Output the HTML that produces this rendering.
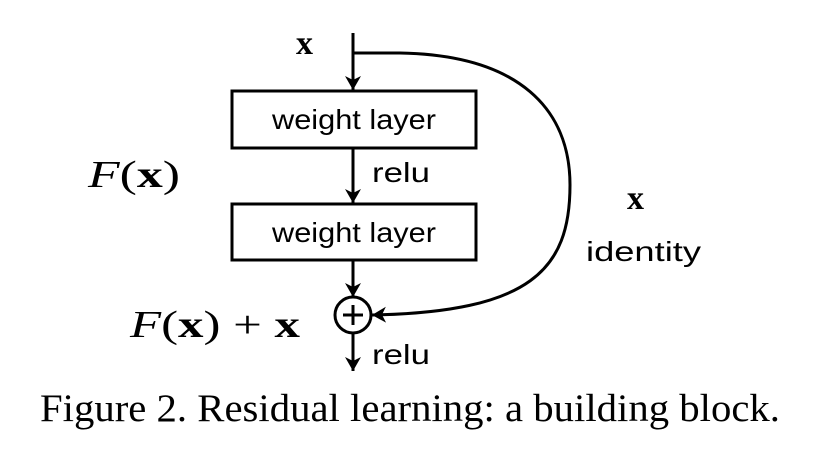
<!DOCTYPE html>
<html><head><style>
body{margin:0;background:#fff;}
svg{display:block}
</style></head><body>
<svg width="819" height="453" viewBox="0 0 819 453" xmlns="http://www.w3.org/2000/svg">
<defs>
<marker id="a" markerWidth="14" markerHeight="16" refX="14" refY="8" orient="auto" markerUnits="userSpaceOnUse" viewBox="0 0 14 16">
<path d="M0,0 L14,8 L0,16 L4,8 z" fill="#000"/>
</marker>
</defs>
<g stroke="#000" stroke-width="3" fill="none">
<line x1="353" y1="33" x2="353" y2="90" marker-end="url(#a)"/>
<line x1="353" y1="148" x2="353" y2="203" marker-end="url(#a)"/>
<line x1="353" y1="260" x2="353" y2="297" marker-end="url(#a)"/>
<line x1="353" y1="334" x2="353" y2="371" marker-end="url(#a)"/>
<rect x="232" y="91" width="244" height="57"/>
<rect x="232" y="204" width="244" height="56"/>
<circle cx="353" cy="315" r="18"/>
<line x1="343" y1="315" x2="363" y2="315"/>
<line x1="353" y1="305" x2="353" y2="325"/>
<path d="M353,53 L400,53 C520,55 570,110 570,185 C570,270 530,312 372,315" marker-end="url(#a)"/>
</g>
<g font-family="Liberation Sans, sans-serif" fill="#000" font-size="28" lengthAdjust="spacingAndGlyphs">
<text x="272" y="129" textLength="164" lengthAdjust="spacingAndGlyphs">weight layer</text>
<text x="272" y="242" textLength="164" lengthAdjust="spacingAndGlyphs">weight layer</text>
<text x="372" y="182" textLength="58" lengthAdjust="spacingAndGlyphs">relu</text>
<text x="372" y="364" textLength="58" lengthAdjust="spacingAndGlyphs">relu</text>
<text x="586" y="261" textLength="115" lengthAdjust="spacingAndGlyphs">identity</text>
</g>
<g font-family="Liberation Serif, serif" fill="#000">
<text x="296" y="54" font-size="34" font-weight="bold">x</text>
<text x="627" y="209" font-size="34" font-weight="bold">x</text>
<text x="88" y="187" font-size="38" textLength="92" lengthAdjust="spacingAndGlyphs"><tspan font-style="italic">F</tspan>(<tspan font-weight="bold">x</tspan>)</text>
<text x="130" y="337" font-size="38" textLength="170" lengthAdjust="spacingAndGlyphs"><tspan font-style="italic">F</tspan>(<tspan font-weight="bold">x</tspan>) + <tspan font-weight="bold">x</tspan></text>
<text x="40" y="421" font-size="39" textLength="740" lengthAdjust="spacingAndGlyphs">Figure 2. Residual learning: a building block.</text>
</g>
</svg>
</body></html>
